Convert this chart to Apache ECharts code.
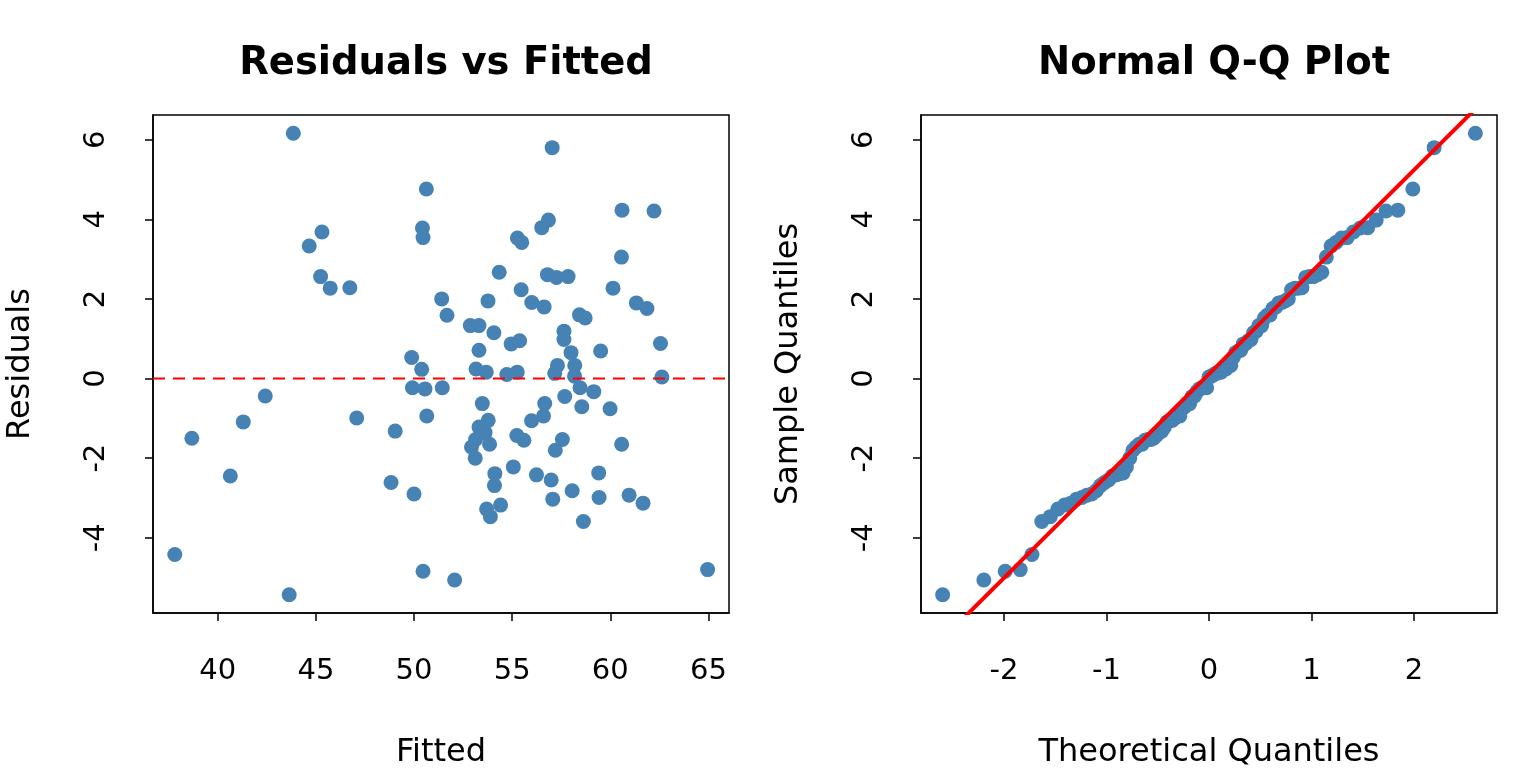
<!DOCTYPE html>
<html>
<head>
<meta charset="utf-8">
<script src="https://cdn.jsdelivr.net/npm/echarts@6.0.0/dist/echarts.min.js"></script>
<style>
html,body{margin:0;padding:0;background:#fff}
#chart{width:1536px;height:768px}
</style>
</head>
<body>
<div id="chart"></div>
<script>
// values (fitted, residual pairs)
const fitted = [43.85,50.63,50.43,50.46,45.31,44.66,45.24,45.73,46.73,51.41,51.68,49.88,50.39,57.04,60.60,62.23,56.85,56.51,55.27,55.49,60.57,54.34,56.80,57.26,57.85,60.14,53.77,55.46,56.00,56.63,61.33,61.87,52.87,53.31,54.07,58.43,58.72,57.64,57.64,58.00,59.51,62.56,54.95,55.38,53.31,53.16,53.68,54.73,55.26,57.31,57.17,58.19,58.18,62.63,51.44,58.46,59.16,53.48,57.68,56.66,58.55,59.99,56.60,55.99,53.78,53.31,53.62,53.14,52.93,53.85,53.12,55.24,55.60,57.56,57.20,60.58,54.12,54.10,55.06,56.24,56.99,59.41,58.06,57.07,59.43,60.96,61.67,53.70,53.89,54.41,58.63,52.07,64.96,49.92,50.56,42.42,50.65,47.08,49.04,41.30,38.68,40.64,48.83,50.00,37.81,50.46,43.64];
const residuals = [6.16,4.76,3.78,3.54,3.68,3.33,2.56,2.27,2.28,2.00,1.59,0.53,0.23,5.80,4.23,4.21,3.98,3.79,3.53,3.42,3.05,2.67,2.61,2.54,2.56,2.27,1.95,2.23,1.91,1.80,1.90,1.76,1.33,1.33,1.15,1.60,1.52,1.19,0.98,0.65,0.69,0.88,0.87,0.95,0.71,0.24,0.16,0.10,0.16,0.33,0.13,0.33,0.06,0.04,-0.23,-0.23,-0.33,-0.63,-0.45,-0.63,-0.71,-0.76,-0.94,-1.06,-1.05,-1.22,-1.36,-1.53,-1.72,-1.65,-2.00,-1.43,-1.55,-1.53,-1.80,-1.65,-2.39,-2.69,-2.22,-2.42,-2.55,-2.37,-2.82,-3.03,-2.99,-2.93,-3.13,-3.28,-3.47,-3.18,-3.59,-5.06,-4.80,-0.23,-0.26,-0.44,-0.94,-0.99,-1.32,-1.09,-1.50,-2.45,-2.61,-2.90,-4.42,-4.84,-5.43];

const fittedTicks = [40,45,50,55,60,65];
const residTicks = [-4,-2,0,2,4,6];
const theoTicks = [-2,-1,0,1,2];
// reference line of the Q-Q panel
const qqLine = [[-3.0,-7.57],[3.0,7.80]];

// standard normal quantile (Acklam) for the Q-Q x positions
function qnorm(p){
  const a=[-3.969683028665376e+01,2.209460984245205e+02,-2.759285104469687e+02,1.383577518672690e+02,-3.066479806614716e+01,2.506628277459239e+00];
  const b=[-5.447609879822406e+01,1.615858368580409e+02,-1.556989798598866e+02,6.680131188771972e+01,-1.328068155288572e+01];
  const c=[-7.784894002430293e-03,-3.223964580411365e-01,-2.400758277161838e+00,-2.549732539343734e+00,4.374664141464968e+00,2.938163982698783e+00];
  const d=[7.784695709041462e-03,3.224671290700398e-01,2.445134137142996e+00,3.754408661907416e+00];
  const pl=0.02425;
  if(p<pl){const q=Math.sqrt(-2*Math.log(p));return (((((c[0]*q+c[1])*q+c[2])*q+c[3])*q+c[4])*q+c[5])/((((d[0]*q+d[1])*q+d[2])*q+d[3])*q+1);}
  if(p>1-pl){const q=Math.sqrt(-2*Math.log(1-p));return -(((((c[0]*q+c[1])*q+c[2])*q+c[3])*q+c[4])*q+c[5])/((((d[0]*q+d[1])*q+d[2])*q+d[3])*q+1);}
  const q=p-0.5,r=q*q;
  return (((((a[0]*r+a[1])*r+a[2])*r+a[3])*r+a[4])*r+a[5])*q/(((((b[0]*r+b[1])*r+b[2])*r+b[3])*r+b[4])*r+1);
}

const n = residuals.length;
const sorted = residuals.slice().sort((x,y)=>x-y);
const qqData = sorted.map((v,i)=>[qnorm((i+1-0.5)/n), v]);
const rvfData = fitted.map((f,i)=>[f, residuals[i]]);

const font = 'DejaVu Sans';
const blue = '#4682B4';

function xAx(idx, min, max, ticks, name){
  return {
    gridIndex: idx, type:'value', min:min, max:max, name:name,
    nameLocation:'middle', nameGap:124,
    nameTextStyle:{fontFamily:font,fontSize:32,color:'#000'},
    axisLine:{show:true,onZero:false,lineStyle:{color:'#000',width:1.5}},
    axisTick:{show:true,length:8,customValues:ticks,lineStyle:{color:'#000',width:1.5}},
    axisLabel:{show:true,customValues:ticks,margin:44,fontFamily:font,fontSize:29,color:'#000'},
    splitLine:{show:false}
  };
}
function yAx(idx, min, max, ticks, name){
  return {
    gridIndex: idx, type:'value', min:min, max:max, name:name,
    nameLocation:'middle', nameGap:116, nameRotate:90,
    nameTextStyle:{fontFamily:font,fontSize:32,color:'#000'},
    axisLine:{show:true,onZero:false,lineStyle:{color:'#000',width:1.5}},
    axisTick:{show:true,length:8,customValues:ticks,lineStyle:{color:'#000',width:1.5}},
    axisLabel:{show:true,customValues:ticks,rotate:90,margin:42,fontFamily:font,fontSize:29,color:'#000'},
    splitLine:{show:false}
  };
}

const chart = echarts.init(document.getElementById('chart'));
chart.setOption({
  animation:false,
  backgroundColor:'#fff',
  title:[
    {text:'Residuals vs Fitted',left:441,top:39,textAlign:'center',
     textStyle:{fontFamily:font,fontSize:38.5,fontWeight:'bold',color:'#000'}},
    {text:'Normal Q-Q Plot',left:1209,top:39,textAlign:'center',
     textStyle:{fontFamily:font,fontSize:38.5,fontWeight:'bold',color:'#000'}}
  ],
  grid:[
    {left:153,top:115,width:576,height:498,show:true,borderColor:'#000',borderWidth:1.5,
     backgroundColor:'transparent',outerBoundsMode:'none',containLabel:false},
    {left:921,top:115,width:576,height:498,show:true,borderColor:'#000',borderWidth:1.5,
     backgroundColor:'transparent',outerBoundsMode:'none',containLabel:false}
  ],
  xAxis:[
    xAx(0, 36.7, 66.05, fittedTicks, 'Fitted'),
    xAx(1, -2.81, 2.81, theoTicks, 'Theoretical Quantiles')
  ],
  yAxis:[
    yAx(0, -5.89, 6.62, residTicks, 'Residuals'),
    yAx(1, -5.89, 6.62, residTicks, 'Sample Quantiles')
  ],
  series:[
    {type:'scatter',xAxisIndex:0,yAxisIndex:0,data:rvfData,symbolSize:15,
     itemStyle:{color:blue,opacity:1},z:2},
    {type:'line',xAxisIndex:0,yAxisIndex:0,data:[[36.7,0],[66.05,0]],symbol:'none',
     lineStyle:{color:'#ff0000',width:2,type:[12,8]},z:3,silent:true},
    {type:'scatter',xAxisIndex:1,yAxisIndex:1,data:qqData,symbolSize:15,
     itemStyle:{color:blue,opacity:1},z:2},
    {type:'line',xAxisIndex:1,yAxisIndex:1,data:qqLine,symbol:'none',clip:true,
     lineStyle:{color:'#ff0000',width:4},z:3,silent:true}
  ]
});
</script>
</body>
</html>
